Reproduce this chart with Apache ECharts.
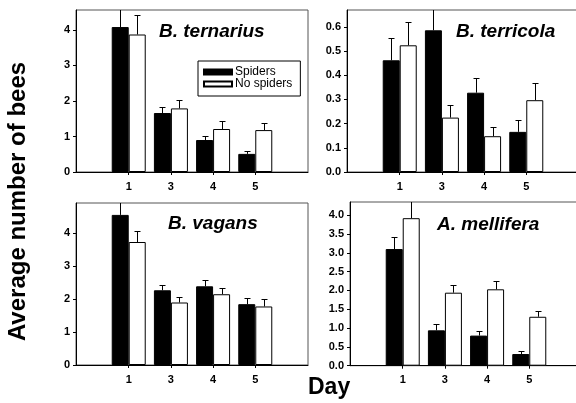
<!DOCTYPE html>
<html><head><meta charset="utf-8">
<script src="https://cdn.jsdelivr.net/npm/echarts@6/dist/echarts.min.js"></script>
<style>html,body{margin:0;padding:0;background:#fff}#c{width:576px;height:403px}</style>
</head><body><div id="c"></div>
<script>
// ---- data ----
const days = ['1', '3', '4', '5'];
const seriesNames = ['Spiders', 'No spiders'];
const panelTitles = ['B. ternarius', 'B. terricola', 'B. vagans', 'A. mellifera'];

const ternariusSpiders = [4.08, 1.66, 0.90, 0.51];
const ternariusSpidersSE = [0.80, 0.17, 0.11, 0.07];
const ternariusNoSpiders = [3.87, 1.79, 1.21, 1.18];
const ternariusNoSpidersSE = [0.56, 0.24, 0.22, 0.21];

const terricolaSpiders = [0.462, 0.586, 0.328, 0.166];
const terricolaSpidersSE = [0.092, 0.12, 0.062, 0.051];
const terricolaNoSpiders = [0.524, 0.225, 0.148, 0.297];
const terricolaNoSpidersSE = [0.097, 0.054, 0.037, 0.073];

const vagansSpiders = [4.54, 2.26, 2.38, 1.84];
const vagansSpidersSE = [0.50, 0.16, 0.18, 0.18];
const vagansNoSpiders = [3.72, 1.89, 2.14, 1.77];
const vagansNoSpidersSE = [0.32, 0.16, 0.20, 0.22];

const melliferaSpiders = [3.10, 0.94, 0.80, 0.31];
const melliferaSpidersSE = [0.31, 0.16, 0.12, 0.07];
const melliferaNoSpiders = [3.92, 1.94, 2.03, 1.30];
const melliferaNoSpidersSE = [0.50, 0.21, 0.22, 0.16];

const yTicks1 = [0, 1, 2, 3, 4];
const yTicks2 = [0, 0.1, 0.2, 0.3, 0.4, 0.5, 0.6];
const yTicks3 = [0, 1, 2, 3, 4];
const yTicks4 = [0, 0.5, 1, 1.5, 2, 2.5, 3, 3.5, 4];

// ---- layout / style ----
const panels = [
  {title: panelTitles[0], s: ternariusSpiders, sse: ternariusSpidersSE, n: ternariusNoSpiders, nse: ternariusNoSpidersSE,
   ticks: yTicks1, dec: 0, max: 4.56, grid: {left: 76, top: 10, width: 232, height: 162}, titlePos: {left: 159, top: 22}},
  {title: panelTitles[1], s: terricolaSpiders, sse: terricolaSpidersSE, n: terricolaNoSpiders, nse: terricolaNoSpidersSE,
   ticks: yTicks2, dec: 1, max: 0.67, grid: {left: 347, top: 10, width: 232, height: 162}, titlePos: {left: 456, top: 22}},
  {title: panelTitles[2], s: vagansSpiders, sse: vagansSpidersSE, n: vagansNoSpiders, nse: vagansNoSpidersSE,
   ticks: yTicks3, dec: 0, max: 4.90, grid: {left: 76, top: 203, width: 232, height: 162}, titlePos: {left: 168, top: 214}},
  {title: panelTitles[3], s: melliferaSpiders, sse: melliferaSpidersSE, n: melliferaNoSpiders, nse: melliferaNoSpidersSE,
   ticks: yTicks4, dec: 1, max: 4.35, grid: {left: 350, top: 202, width: 232, height: 163.7}, titlePos: {left: 437, top: 215}}
];

const FONT = 'Liberation Sans';
const BAR_W = 17;

function errSeries(name, gi, vals, ses, off) {
  return {
    type: 'custom', name: name, xAxisIndex: gi, yAxisIndex: gi, clip: true, z: 5,
    encode: {x: 0, y: 1},
    data: vals.map((v, i) => [i + 1, v, v + ses[i]]),
    renderItem: function (params, api) {
      const p0 = api.coord([api.value(0), api.value(1)]);
      const p1 = api.coord([api.value(0), api.value(2)]);
      const x = Math.round(p0[0] + off) + 0.5;
      const y1 = Math.round(p1[1]) + 0.5;
      return {type: 'group', children: [
        {type: 'line', shape: {x1: x, y1: p0[1], x2: x, y2: y1}, style: {stroke: '#000', lineWidth: 1}},
        {type: 'line', shape: {x1: x - 3, y1: y1, x2: x + 3, y2: y1}, style: {stroke: '#000', lineWidth: 1}}
      ]};
    }
  };
}

const option = {
  backgroundColor: '#fff',
  animation: false,
  textStyle: {fontFamily: FONT},
  title: panels.map(p => ({
    text: p.title, left: p.titlePos.left, top: p.titlePos.top, padding: 0,
    textStyle: {fontFamily: FONT, fontSize: 19, fontWeight: 'bold', fontStyle: 'italic', color: '#000'}
  })),
  legend: {
    data: seriesNames, orient: 'vertical', left: 198, top: 61,
    padding: [5, 8, 6, 5], itemGap: 0, itemWidth: 28, itemHeight: 5,
    borderColor: '#000', borderWidth: 1, icon: 'rect',
    textStyle: {fontFamily: FONT, fontSize: 12, color: '#000', padding: [0, 0, 0, -2]}
  },
  grid: panels.map(p => Object.assign({show: true, borderColor: '#555', borderWidth: 1, outerBoundsMode: 'none', containLabel: false}, p.grid)),
  xAxis: panels.map((p, gi) => ({
    type: 'value', gridIndex: gi, min: -0.25, max: 5.25, interval: 0.25,
    splitLine: {show: false},
    axisLine: {show: true, onZero: false, lineStyle: {color: '#000', width: 1}},
    axisTick: {show: true, inside: false, length: 3, customValues: [1, 2, 3, 4], lineStyle: {color: '#000'}},
    axisLabel: {customValues: [1, 2, 3, 4], margin: 9, fontFamily: FONT, fontSize: 11, fontWeight: 'bold', color: '#000',
      formatter: v => days[Math.round(v) - 1] || ''}
  })),
  yAxis: panels.map((p, gi) => ({
    type: 'value', gridIndex: gi, min: 0, max: p.max,
    splitLine: {show: false},
    axisLine: {show: true, onZero: false, lineStyle: {color: '#000', width: 1}},
    axisTick: {show: true, length: 3, customValues: p.ticks, lineStyle: {color: '#000'}},
    axisLabel: {customValues: p.ticks, margin: 6, fontFamily: FONT, fontSize: 11, fontWeight: 'bold', color: '#000',
      formatter: v => v.toFixed(p.dec)}
  })),
  graphic: [
    {type: 'text', left: 6, top: 'middle', rotation: Math.PI / 2, style: {text: 'Average number of bees', font: 'bold 24px "Liberation Sans"', fill: '#000'}},
    {type: 'text', left: 308, top: 376, style: {text: 'Day', font: 'bold 23px "Liberation Sans"', fill: '#000'}}
  ],
  series: []
};

panels.forEach((p, gi) => {
  option.series.push({
    type: 'bar', name: seriesNames[0], xAxisIndex: gi, yAxisIndex: gi, barWidth: BAR_W, barGap: '0%',
    itemStyle: {color: '#000', borderColor: '#000', borderWidth: 1},
    data: p.s.map((v, i) => [i + 1, v])
  });
  option.series.push({
    type: 'bar', name: seriesNames[1], xAxisIndex: gi, yAxisIndex: gi, barWidth: BAR_W, barGap: '0%',
    itemStyle: {color: '#fff', borderColor: '#000', borderWidth: 1},
    data: p.n.map((v, i) => [i + 1, v])
  });
  option.series.push(errSeries('err', gi, p.s, p.sse, -BAR_W / 2));
  option.series.push(errSeries('err', gi, p.n, p.nse, BAR_W / 2));
});

const chart = echarts.init(document.getElementById('c'), null, {renderer: 'canvas'});
chart.setOption(option);
</script>
</body></html>
